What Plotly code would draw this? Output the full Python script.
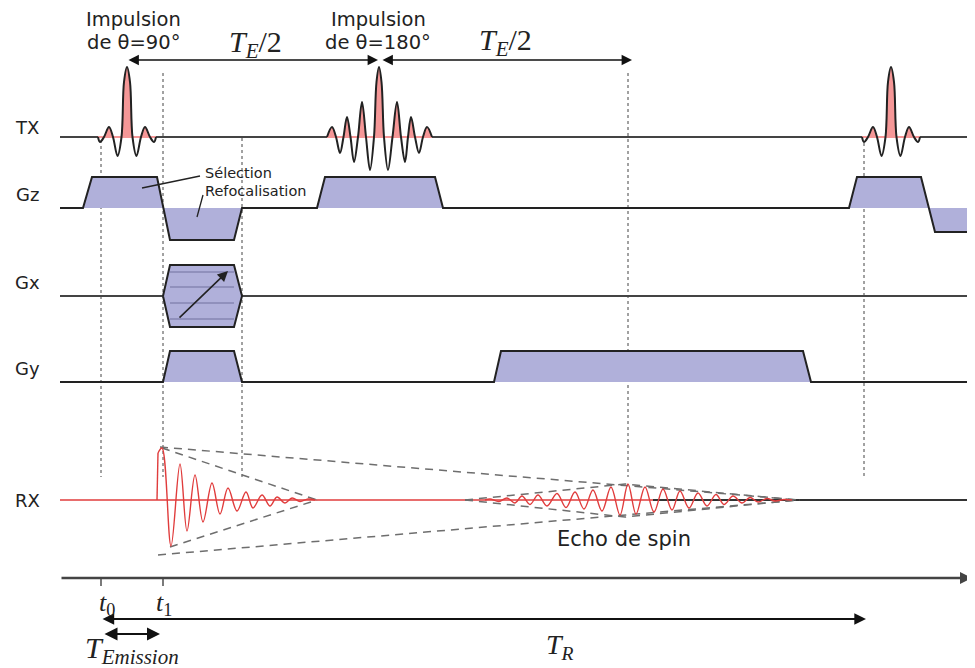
import plotly.graph_objects as go

# --- canaux et lignes de base (px depuis le haut) ---
canaux = ["TX", "Gz", "Gx", "Gy", "RX"]
bases = [137, 208, 296, 382, 500]
decal_labels = [-10, -14, -14, -14, 0]
x_debut, x_fin = 60, 975

# --- impulsions RF (décalage / centre, amplitude en px) ---
sinc90_dx = [-29, -27, -23, -18, -14, -9.5, -5.5, -3, 0, 3, 5.5, 9.5, 14, 18, 23, 27, 29]
sinc90_amp = [0, -5, 0, 10, 0, -19, 0, 55, 70, 55, 0, -19, 0, 10, 0, -5, 0]
centres_90 = [127, 891]

sinc180_t = [327, 332, 336, 340, 343.5, 347, 350.5, 354, 358, 362, 366, 370, 374, 376.5, 379,
             381.5, 384, 388, 392.5, 397, 401, 405, 408, 411, 415, 419, 423, 427, 432]
sinc180_amp = [0, 10, 0, -16, 0, 20, 0, -25, 0, 35, 0, -33, 0, 55, 70,
               55, 0, -33, 0, 35, 0, -25, 0, 20, 0, -16, 0, 10, 0]

# --- gradients ---
gz_t = [60, 83, 92, 157, 170, 234, 242, 317, 325, 435, 443, 849, 857, 921, 935, 968, 968]
gz_amp = [0, 0, 31, 31, -32, -32, 0, 0, 31, 31, 0, 0, 31, 31, -24, -24, 0]

gx_t = [163, 170, 234, 242, 234, 170, 163]
gx_amp = [0, 31, 31, 0, -31, -31, 0]
gx_paliers = [24, 9, -7, -23]

gy_t = [60, 163, 170, 234, 242, 494, 501, 803, 811, 975]
gy_amp = [0, 0, 31, 31, 0, 0, 31, 31, 0, 0]

# --- signal RX ---
fid_t = [157, 158, 162, 171, 180, 187, 195, 203, 212, 220, 228, 237, 246, 253,
         262, 270, 277, 285, 292, 300, 308, 315]
fid_amp = [0, 47, 52, -46, 36, -31, 25, -22, 17, -14, 12, -11, 8, -8,
           5, -6, 3, -3, 2, -1.5, 1, 0]

echo_t = [485, 490, 499, 507, 515, 522, 530, 538, 547, 557, 566, 575, 584, 593, 602,
          611, 620, 628, 636, 645, 654, 663, 672, 680, 689, 698, 707, 716, 724, 733,
          742, 750, 758, 767, 775, 784, 792]
echo_amp = [0, 1, -1.5, 2, -3, 4, -4.5, 5, -6, 6.5, -7.5, 8, -9, 10, -11,
            13, -15, 16, -14, 13, -12, 11, -10, 9, -8, 7, -6, 5.5, -4.5, 4,
            -3, 2.5, -2, 1.5, -1, 0.5, 0]

env_fid_ext_t, env_fid_ext_haut, env_fid_ext_bas = [160, 800], [53, 0], [-55, 0]
env_fid_int_t, env_fid_int_haut = [162, 317], [52, 0]
env_fid_int_bas_t, env_fid_int_bas = [170, 317], [-47, 0]
env_echo_t, env_echo_haut, env_echo_bas = [465, 625, 797], [0, 16, 0], [0, -17, 0]

# --- repères temporels ---
reperes_x = [101, 163, 242, 628, 864]
reperes_haut = [140, 73, 138, 73, 143]
reperes_bas = 477
axe_y = 578
t0, t1, t_rep = 101, 163, 866

NOIR = "#222222"
GRIS = "#444444"
ROSE = "#f59797"
LAVANDE = "#b0b0da"
ROUGE = "#e03c3c"

fig = go.Figure()


def ligne(x, y, couleur=NOIR, largeur=2, dash=None, forme="linear"):
    fig.add_trace(go.Scatter(
        x=x, y=y, mode="lines",
        line=dict(color=couleur, width=largeur, dash=dash, shape=forme),
        hoverinfo="skip", showlegend=False
    ))


def remplir(x, y, couleur, forme="linear"):
    fig.add_trace(go.Scatter(
        x=x, y=y, mode="lines", fill="toself", fillcolor=couleur,
        line=dict(color=couleur, width=0, shape=forme),
        hoverinfo="skip", showlegend=False
    ))


def lobes(t, a):
    pts = []
    for i in range(len(t)):
        if i > 0 and a[i - 1] * a[i] < 0:
            tc = t[i - 1] + (t[i] - t[i - 1]) * a[i - 1] / (a[i - 1] - a[i])
            pts.append((tc, 0))
        pts.append((t[i], a[i]))
    res, cur = [], [pts[0]]
    for p in pts[1:]:
        cur.append(p)
        if p[1] == 0:
            if any(q[1] != 0 for q in cur):
                res.append(cur)
            cur = [p]
    return res


def en_y(base, amps):
    return [base - a for a in amps]


# lignes pointillées verticales
for x, y0 in zip(reperes_x, reperes_haut):
    ligne([x, x], [y0, reperes_bas], couleur="#444444", largeur=1, dash="3px,3px")

# TX
b_tx = bases[0]
ligne([x_debut, x_fin], [b_tx, b_tx], couleur=GRIS)
impulsions = [[c + d for d in sinc90_dx] for c in centres_90] + [sinc180_t]
amps = [sinc90_amp, sinc90_amp, sinc180_amp]
for t, a in zip(impulsions, amps):
    ligne([t[0], t[-1]], [b_tx, b_tx], couleur="white", largeur=3)
    for lobe in lobes(t, a):
        if max(p[1] for p in lobe) > 0:
            remplir([p[0] for p in lobe], en_y(b_tx, [p[1] for p in lobe]), ROSE, forme="spline")
    ligne([t[0], t[-1]], [b_tx, b_tx], couleur=ROSE, largeur=2)
    ligne(t, en_y(b_tx, a), couleur=NOIR, largeur=2, forme="spline")

# Gz
b_gz = bases[1]
for lobe in lobes(gz_t, gz_amp):
    remplir([p[0] for p in lobe], en_y(b_gz, [p[1] for p in lobe]), LAVANDE)
ligne(gz_t, en_y(b_gz, gz_amp))

# Gx
b_gx = bases[2]
ligne([x_debut, gx_t[0]], [b_gx, b_gx], couleur=GRIS)
ligne([gx_t[3], x_fin], [b_gx, b_gx], couleur=GRIS)
remplir(gx_t, en_y(b_gx, gx_amp), LAVANDE)
for p in gx_paliers:
    ligne([gx_t[1], gx_t[2]], [b_gx - p, b_gx - p], couleur="#8686b2", largeur=1.3)
ligne(gx_t, en_y(b_gx, gx_amp), couleur=NOIR, largeur=2)
fig.add_annotation(x=228, y=b_gx - 25, ax=178, ay=b_gx + 23, xref="x", yref="y",
                   axref="x", ayref="y", text="", showarrow=True, arrowhead=2,
                   arrowsize=1.3, arrowwidth=1.6, arrowcolor=NOIR)

# Gy
b_gy = bases[3]
for lobe in lobes(gy_t, gy_amp):
    remplir([p[0] for p in lobe], en_y(b_gy, [p[1] for p in lobe]), LAVANDE)
ligne(gy_t, en_y(b_gy, gy_amp))

# RX
b_rx = bases[4]
ligne([x_debut, 800], [b_rx, b_rx], couleur=ROUGE, largeur=1.4)
ligne([653, x_fin], [b_rx, b_rx], couleur="#333333", largeur=2)
dash_env = "8px,6px"
gris_env = "#6e6e6e"
ligne(env_fid_ext_t, en_y(b_rx, env_fid_ext_haut), couleur=gris_env, largeur=1.5, dash=dash_env)
ligne([158, 800], en_y(b_rx, env_fid_ext_bas), couleur=gris_env, largeur=1.5, dash=dash_env)
ligne(env_fid_int_t, en_y(b_rx, env_fid_int_haut), couleur=gris_env, largeur=1.5, dash=dash_env)
ligne(env_fid_int_bas_t, en_y(b_rx, env_fid_int_bas), couleur=gris_env, largeur=1.5, dash=dash_env)
ligne(env_echo_t, en_y(b_rx, env_echo_haut), couleur=gris_env, largeur=1.5, dash=dash_env)
ligne(env_echo_t, en_y(b_rx, env_echo_bas), couleur=gris_env, largeur=1.5, dash=dash_env)
# front vertical puis oscillations amorties
ligne(fid_t[:2], en_y(b_rx, fid_amp[:2]), couleur=ROUGE, largeur=1.4)
ligne(fid_t[1:], en_y(b_rx, fid_amp[1:]), couleur=ROUGE, largeur=1.4, forme="spline")
ligne(echo_t, en_y(b_rx, echo_amp), couleur=ROUGE, largeur=1.4, forme="spline")

# axe du temps
for x in [t0, t1]:
    ligne([x, x], [axe_y, axe_y + 8], couleur=NOIR, largeur=1.2)


def fleche(x0, x1, y, double=True, largeur=1.6, couleur="#111111", taille=1.3):
    fig.add_annotation(x=x1, y=y, ax=x0, ay=y, xref="x", yref="y", axref="x", ayref="y",
                       text="", showarrow=True, arrowhead=2, arrowsize=taille,
                       arrowwidth=largeur, arrowcolor=couleur,
                       arrowside="end+start" if double else "end")


fleche(x_debut, 972, axe_y, double=False, largeur=2.4, couleur=GRIS, taille=1)
fleche(127, 378, 60)
fleche(381, 632, 60)
fleche(t0, t_rep, 619, largeur=1.8)
fleche(103, 160, 634, largeur=2)

# pointeurs Sélection / Refocalisation
ligne([200, 142], [176, 188], couleur=NOIR, largeur=1.3)
ligne([203, 197], [195, 217], couleur=NOIR, largeur=1.3)


def texte(x, y, s, taille, famille="DejaVu Sans", ancre="center", couleur="#222222"):
    fig.add_annotation(x=x, y=y, xref="x", yref="y", text=s, showarrow=False,
                       xanchor=ancre, yanchor="middle",
                       font=dict(family=famille, size=taille, color=couleur))


for nom, b, d in zip(canaux, bases, decal_labels):
    texte(27, b + d, nom, 18)

texte(133, 19, "Impulsion", 19.5)
texte(133, 42, "de θ=90°", 19.5)
texte(378, 19, "Impulsion", 19.5)
texte(378, 42, "de θ=180°", 19.5)
texte(203, 173, "Sélection", 14.5, ancre="left")
texte(203, 191, "Refocalisation", 14.5, ancre="left")
texte(624, 539, "Echo de spin", 21)

serif = "Liberation Serif"
texte(255, 44, "<i>T</i><sub><i>E</i></sub>/2", 30, famille=serif)
texte(505, 42, "<i>T</i><sub><i>E</i></sub>/2", 30, famille=serif)
texte(t0 + 6, 604, "<i>t</i><sub>0</sub>", 26, famille=serif)
texte(t1 + 1, 604, "<i>t</i><sub>1</sub>", 26, famille=serif)
texte(560, 646, "<i>T</i><sub><i>R</i></sub>", 28, famille=serif)
texte(132, 650, "<i>T</i><sub><i>Emission</i></sub>", 30, famille=serif)
texte(969, 593, "<i>t</i>", 26, famille=serif, ancre="left")

# la page ajoute une marge de 8 px : on décale les axes d'autant
fig.update_layout(
    width=975, height=668,
    margin=dict(l=0, r=0, t=0, b=0),
    paper_bgcolor="white", plot_bgcolor="white",
    xaxis=dict(range=[8, 983], visible=False),
    yaxis=dict(range=[676, 8], visible=False),
)

fig.write_html("out.html")
